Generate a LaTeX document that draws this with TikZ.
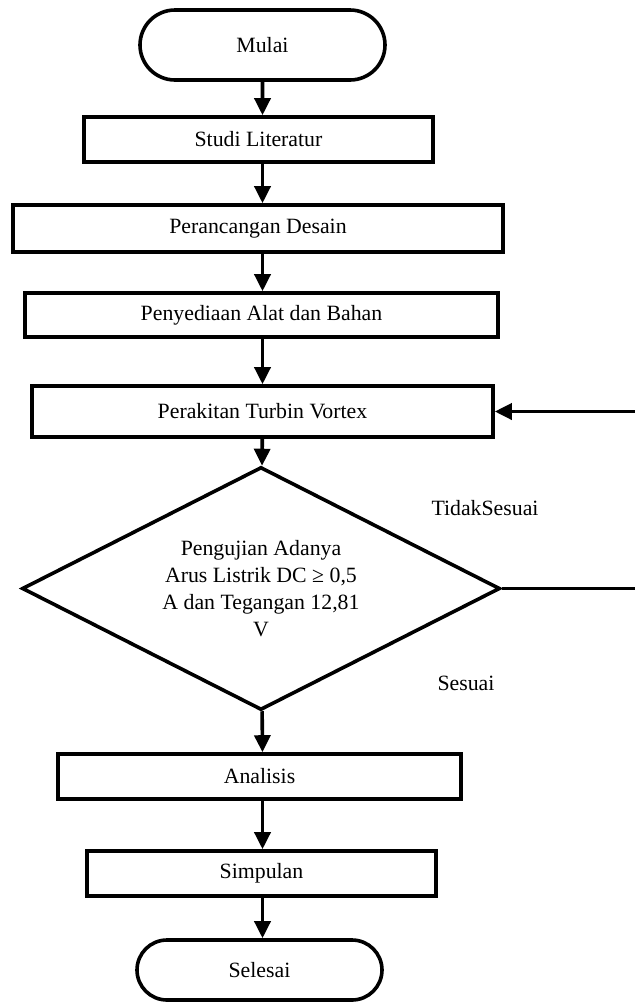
\documentclass[tikz,border=0pt]{standalone}
\usepackage{fontspec}
\setmainfont{Liberation Serif}
\usetikzlibrary{arrows.meta,shapes.geometric,shapes.misc}
\tikzset{
  fcnode/.style = {align=center, inner sep=0pt, text centered, font=\fontsize{10.9}{13.4}\selectfont},
  % flowchart parts: terminal, process box, decision
  fc_term/.style = {fcnode, rounded rectangle, draw=black, line width=1.8pt, minimum width=122.5pt, minimum height=35pt},
  fc_box/.style = {fcnode, rectangle, draw=black, line width=1.8pt, minimum height=22.5pt},
  fc_dec/.style = {fcnode, diamond, shape aspect=2, draw=black, line width=1.8pt, minimum width=239pt, minimum height=121.5pt},
  label_fc/.style = {fcnode}
}

\begin{document}
\begin{tikzpicture}[x=0.5pt, y=-0.5pt, ->, >={Triangle[length=8.5pt,width=8pt]}, line width=1.8pt]
    \useasboundingbox (0,0) rectangle (635,1002);
    % Start - Mulai:
    \node [fc_term] (mulai) at (262.5,45) {Mulai};
    % Step 1 - Studi Literatur:
    \node [fc_box, minimum width=174.5pt] (studi) at (258.5,139.5) {Studi Literatur};
    % Step 2 - Perancangan Desain:
    \node [fc_box, minimum width=245pt, minimum height=23.5pt] (rancang) at (258,228.5) {Perancangan Desain};
    % Step 3 - Penyediaan Alat dan Bahan:
    \node [fc_box, minimum width=236.5pt, minimum height=22pt] (sedia) at (261.5,315) {Penyediaan Alat dan Bahan};
    % Step 4 - Perakitan:
    \node [fc_box, minimum width=230.5pt, minimum height=25.5pt] (rakit) at (262.5,411.5) {Perakitan Turbin Vortex};
    % Decision - Pengujian:
    \node [fc_dec] (uji) at (261,588.5) {Pengujian Adanya\\Arus Listrik DC ≥ 0,5\\A dan Tegangan 12,81\\V};
    % Step 5 - Analisis:
    \node [fc_box, minimum width=201.5pt] (analisis) at (259.5,776.5) {Analisis};
    % Step 6 - Simpulan:
    \node [fc_box, minimum width=174.5pt] (simpul) at (261.5,873.5) {Simpulan};
    % End - Selesai:
    \node [fc_term, minimum height=30pt] (selesai) at (259.5,970) {Selesai};
    % Labels of the decision:
    \node [label_fc] (tidak) at (485,508) {TidakSesuai};
    \node [label_fc] (sesuai) at (466,683) {Sesuai};
    % Loop back on the right edge:
    \coordinate (kanan) at (635,500);

    \draw (mulai) -- (mulai |- studi.north);
    \draw (mulai |- studi.south) -- (mulai |- rancang.north);
    \draw (mulai |- rancang.south) -- (mulai |- sedia.north);
    \draw (mulai |- sedia.south) -- (mulai |- rakit.north);
    \draw (rakit) -- (uji);
    \draw (uji) -- (mulai |- analisis.north);
    \draw (mulai |- analisis.south) -- (mulai |- simpul.north);
    \draw (mulai |- simpul.south) -- (mulai |- selesai.north);
    \draw [-] (uji.east) -- (uji.east -| kanan);
    \draw (rakit.east -| kanan) -- (rakit.east);
\end{tikzpicture}
\end{document}
